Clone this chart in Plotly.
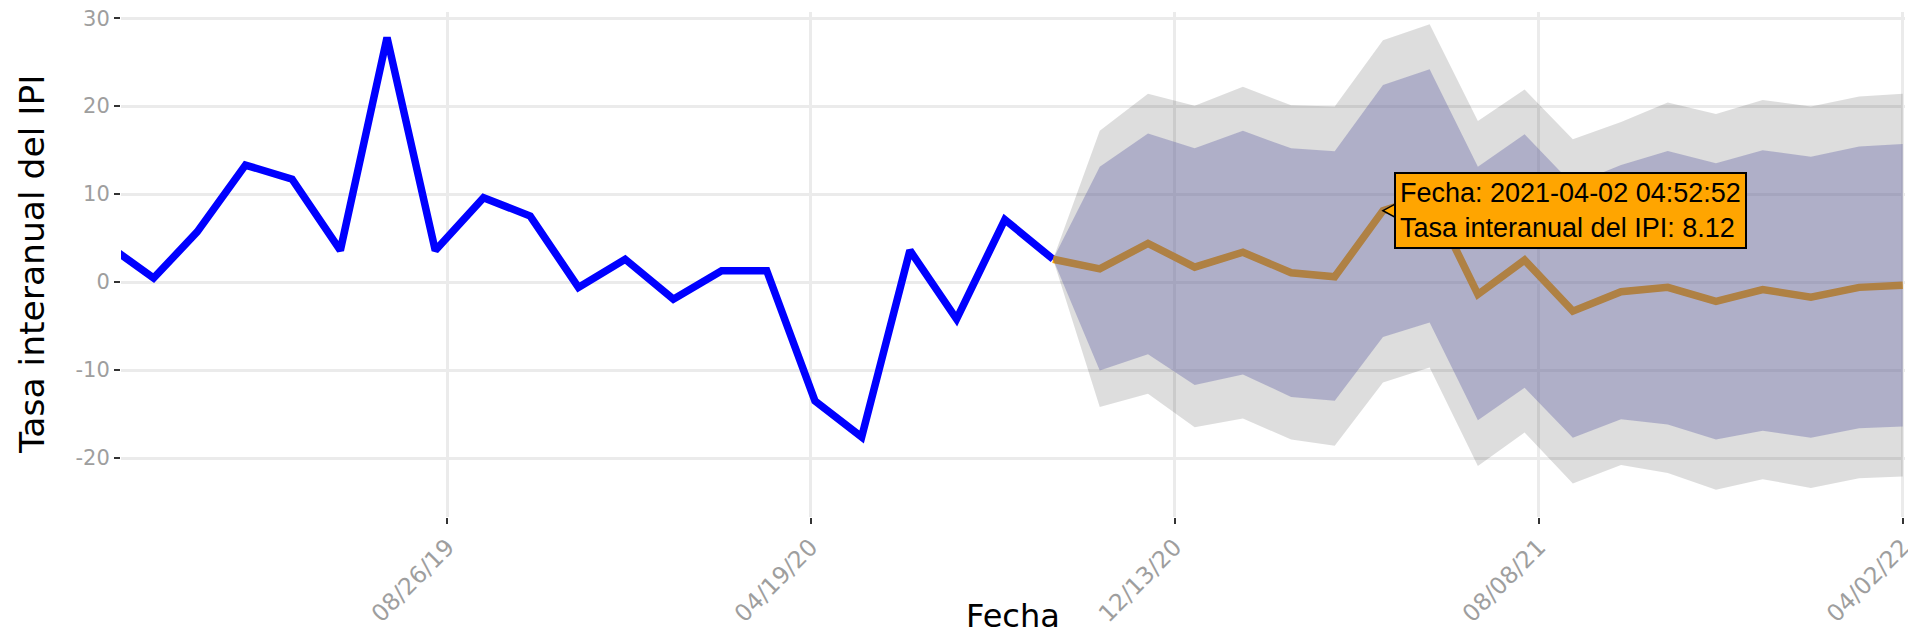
import pandas as pd
import plotly.graph_objects as go

# ---------------- data ----------------
# Observed series (monthly, Jan 2019 .. Sep 2020)
OBS_START = "2019-01-02 04:52:52"
OBS_VALUES = [4.4, 0.46, 5.7, 13.3, 11.7, 3.6, 27.8, 3.6, 9.6, 7.5, -0.6, 2.6,
              -1.95, 1.3, 1.3, -13.5, -17.6, 3.6, -4.2, 7.1, 2.6]

# Forecast (monthly, Sep 2020 .. Mar 2022)
FC_START = "2020-09-02 04:52:52"
FC_MEAN = [2.6, 1.5, 4.4, 1.7, 3.4, 1.06, 0.6, 8.12, 9.8, -1.4, 2.5, -3.3,
           -1.1, -0.6, -2.2, -0.85, -1.72, -0.6, -0.35]
FC_LO80 = [2.6, -10.05, -8.2, -11.7, -10.5, -13.06, -13.5, -6.25, -4.6, -15.7, -12.0, -17.7,
           -15.6, -16.2, -17.9, -16.9, -17.7, -16.6, -16.4]
FC_HI80 = [2.6, 13.1, 16.9, 15.2, 17.2, 15.2, 14.86, 22.4, 24.2, 13.1, 16.8, 11.1,
           13.3, 14.9, 13.5, 15.0, 14.26, 15.4, 15.7]
FC_LO95 = [2.6, -14.2, -12.7, -16.5, -15.5, -17.9, -18.6, -11.4, -9.7, -20.9, -17.1, -22.9,
           -20.8, -21.7, -23.6, -22.4, -23.4, -22.3, -22.1]
FC_HI95 = [2.6, 17.2, 21.4, 20.05, 22.2, 20.1, 19.95, 27.5, 29.3, 18.3, 21.9, 16.25,
           18.2, 20.4, 19.1, 20.7, 19.95, 21.1, 21.4]

# Highlighted (hovered) forecast point
HOVER_INDEX = 7

# Axis ticks
X_TICKVALS = ["2019-08-10 01:00", "2020-03-30 11:00", "2020-11-19 11:00",
              "2021-07-11 06:00", "2022-03-02 04:52:52"]
X_TICKTEXT = ["08/26/19", "04/19/20", "12/13/20", "08/08/21", "04/02/22"]
X_RANGE = ["2019-01-12 06:00", "2022-03-03 16:00"]
Y_TICKVALS = [-20, -10, 0, 10, 20, 30]
Y_TICKTEXT = ["-20", "-10", "0", "10", "20", "30"]
Y_RANGE = [-26.7, 30.7]

X_TITLE = "Fecha"
Y_TITLE = "Tasa interanual del IPI"

MONTH = pd.DateOffset(months=1)
obs_dates = pd.date_range(OBS_START, periods=len(OBS_VALUES), freq=MONTH)
fc_dates = pd.date_range(FC_START, periods=len(FC_MEAN), freq=MONTH)

HOVER = "Fecha: %{x|%Y-%m-%d %H:%M:%S}<br>" + Y_TITLE + ": %{y:.2f}<extra></extra>"

# ---------------- figure ----------------
W, H = 1908, 637
ML, MR, MT, MB = 121, 3, 12, 120
PW, PH = W - ML - MR, H - MT - MB

fig = go.Figure()
fig.add_trace(go.Scatter(x=obs_dates, y=OBS_VALUES, mode="lines",
                         line=dict(color="#0000FF", width=7.5),
                         hovertemplate=HOVER, name="obs"))
fig.add_trace(go.Scatter(x=fc_dates, y=FC_MEAN, mode="lines",
                         line=dict(color="#FFA500", width=7.5),
                         hovertemplate=HOVER, name="fc"))
fig.add_trace(go.Scatter(x=fc_dates, y=FC_LO95, mode="lines", line=dict(width=0),
                         hoverinfo="skip", name="lo95"))
fig.add_trace(go.Scatter(x=fc_dates, y=FC_HI95, mode="lines", line=dict(width=0),
                         fill="tonexty", fillcolor="rgba(0,0,0,0.133)",
                         hoverinfo="skip", name="hi95"))
fig.add_trace(go.Scatter(x=fc_dates, y=FC_LO80, mode="lines", line=dict(width=0),
                         hoverinfo="skip", name="lo80"))
fig.add_trace(go.Scatter(x=fc_dates, y=FC_HI80, mode="lines", line=dict(width=0),
                         fill="tonexty", fillcolor="rgba(108,108,171,0.4)",
                         hoverinfo="skip", name="hi80"))

TICK_GREY = "#9E9E9E"
GRID = "#EBEBEB"

hx = fc_dates[HOVER_INDEX]
hy = FC_MEAN[HOVER_INDEX]
tooltip_text = ("Fecha: " + hx.strftime("%Y-%m-%d %H:%M:%S") + "<br>"
                + Y_TITLE + ": " + f"{hy:.2f}")

fig.update_layout(
    width=W, height=H, autosize=False,
    margin=dict(l=ML, r=MR, t=MT, b=MB, pad=0, autoexpand=False),
    paper_bgcolor="white", plot_bgcolor="white",
    showlegend=False,
    font=dict(family="DejaVu Sans", color="black"),
    hovermode="closest",
    hoverlabel=dict(bgcolor="#FFA500", bordercolor="#000000",
                    font=dict(family="Liberation Sans, Arial", size=27, color="black"),
                    align="left"),
    xaxis=dict(type="date", range=X_RANGE, tickmode="array",
               tickvals=X_TICKVALS, ticktext=X_TICKTEXT, tickangle=-45,
               tickfont=dict(size=23.5, color=TICK_GREY, family="DejaVu Sans"),
               ticklabeloverflow="allow", automargin=False,
               showgrid=True, gridcolor=GRID, gridwidth=2.5,
               ticks="outside", ticklen=6, tickwidth=2, tickcolor="#333333",
               showline=False, zeroline=False, fixedrange=True),
    yaxis=dict(range=Y_RANGE, tickmode="array",
               tickvals=Y_TICKVALS, ticktext=Y_TICKTEXT, automargin=False,
               tickfont=dict(size=21, color=TICK_GREY, family="DejaVu Sans"),
               showgrid=True, gridcolor=GRID, gridwidth=2.5,
               ticks="outside", ticklen=6, tickwidth=2, tickcolor="#333333",
               showline=False, zeroline=False, fixedrange=True),
    shapes=[
        # pointer of the tooltip, anchored on the highlighted point
        dict(type="path", xref="x", yref="y", xsizemode="pixel", ysizemode="pixel",
             xanchor=hx, yanchor=hy, path="M 0 0 L 13 7 L 13 -7 Z",
             fillcolor="#FFA500", line=dict(color="black", width=1.5), layer="above"),
    ],
    annotations=[
        dict(text=X_TITLE, xref="paper", yref="paper", x=0.5,
             y=-(596 - (MT + PH)) / PH, xanchor="center", yanchor="top",
             borderpad=0,
             showarrow=False, font=dict(size=32, color="black", family="DejaVu Sans")),
        dict(text=Y_TITLE, xref="paper", yref="paper",
             x=(31.5 - ML) / PW, y=0.5, xanchor="center", yanchor="middle",
             textangle=-90, showarrow=False,
             font=dict(size=34.5, color="black", family="DejaVu Sans")),
        # tooltip on the highlighted forecast point
        dict(text=tooltip_text, xref="x", yref="y", x=hx, y=hy,
             xanchor="left", yanchor="middle", xshift=11, align="left",
             showarrow=False, bgcolor="#FFA500", bordercolor="black",
             borderwidth=2, borderpad=4,
             font=dict(family="Liberation Sans, Arial", size=27, color="black")),
    ],
)

POST = """
document.body.style.margin = '0px';
document.body.style.overflow = 'hidden';
"""

fig.write_html("out.html", post_script=POST,
               config={"displayModeBar": False, "responsive": False})
